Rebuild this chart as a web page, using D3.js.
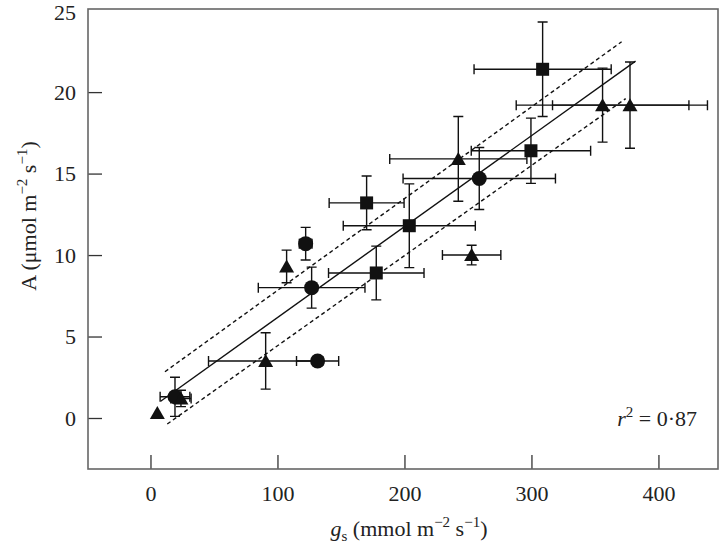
<!DOCTYPE html>
<html>
<head>
<meta charset="utf-8">
<script src="https://cdn.jsdelivr.net/npm/d3@7"></script>
<style>
  html, body { margin: 0; padding: 0; background: #fff; }
  svg { display: block; }
  svg text { font-family: "Liberation Serif", "Times New Roman", Times, serif; }
</style>
</head>
<body>
<div id="chart"></div>
<script>
// squares
const sqGs = [308.8, 299.6, 170.2, 203.8, 177.8];
const sqA = [21.4, 16.4, 13.2, 11.8, 8.9];
const sqGsErr = [54, 47, 29.5, 52, 37.6];
const sqAErr = [2.9, 2.0, 1.65, 2.57, 1.65];

// circles
const ciGs = [258.9, 122.2, 126.9, 131.6, 19.3];
const ciA = [14.7, 10.7, 8.0, 3.5, 1.3];
const ciGsErr = [60, 5, 42, 16.6, 11.7];
const ciAErr = [1.9, 1.0, 1.26, 0, 1.2];

// triangles
const trGs = [356.0, 377.6, 242.4, 107.2, 252.9, 90.7, 24, 5.4];
const trA = [19.2, 19.2, 15.9, 9.3, 10.0, 3.5, 1.2, 0.3];
const trGsErr = [68, 61, 54, 0, 23, 45, 8, 0];
const trAErr = [2.27, 2.65, 2.6, 1.0, 0.6, 1.73, 0.5, 0];

// regression line and confidence band
const fitGs = [8, 382];
const fitA = [1.03, 21.9];
const upperGs = [11.4, 371];
const upperA = [2.84, 23.09];
const lowerGs = [13.2, 374.2];
const lowerA = [-0.37, 19.6];

const xTicks = [0, 100, 200, 300, 400];
const yTicks = [0, 5, 10, 15, 20, 25];
const rSquared = '0·87';

const width = 720, height = 549;
const frame = { left: 88, right: 718, top: 9, bottom: 469 };
const serif = '"Liberation Serif", "Times New Roman", Times, serif';
const fs = 22, fsSmall = 15;

const svg = d3.select('#chart').append('svg')
  .attr('width', width)
  .attr('height', height);

const x = d3.scaleLinear().domain([-49.2, 446.9]).range([frame.left, frame.right]);
const y = d3.scaleLinear().domain([-3.13, 25.1]).range([frame.bottom, frame.top]);

const ink = '#111';

// axes, ticks pointing inward
const xAxis = svg.append('g')
  .attr('transform', `translate(0,${frame.bottom})`)
  .call(d3.axisBottom(x).tickValues(xTicks).tickSize(-14).tickPadding(16).tickFormat(d3.format('d')));
const yAxis = svg.append('g')
  .attr('transform', `translate(${frame.left},0)`)
  .call(d3.axisLeft(y).tickValues(yTicks).tickSize(-14).tickPadding(12).tickFormat(d3.format('d')));

[xAxis, yAxis].forEach(g => {
  g.select('.domain').remove();
  g.selectAll('.tick line').attr('stroke', '#333').attr('stroke-width', 1.3);
  g.selectAll('.tick text')
    .attr('font-family', serif)
    .attr('font-size', fs)
    .attr('fill', '#222');
});
const top25 = yAxis.selectAll('.tick').filter(d => d === 25);
top25.select('line').remove();
top25.select('text').attr('dy', '0.4em');

svg.append('rect')
  .attr('x', frame.left).attr('y', frame.top)
  .attr('width', frame.right - frame.left)
  .attr('height', frame.bottom - frame.top)
  .attr('fill', 'none')
  .attr('stroke', '#666')
  .attr('stroke-width', 1.6);

// fit lines
const line = d3.line().x(d => x(d[0])).y(d => y(d[1]));
const plotLine = (xs, ys, dash) => svg.append('path')
  .datum(xs.map((v, i) => [v, ys[i]]))
  .attr('d', line)
  .attr('fill', 'none')
  .attr('stroke', ink)
  .attr('stroke-width', 1.4)
  .attr('stroke-dasharray', dash);
plotLine(fitGs, fitA, null);
plotLine(upperGs, upperA, '4,3');
plotLine(lowerGs, lowerA, '4,3');

// error bars
const cap = 5;
function errorBars(gs, a, gsErr, aErr) {
  const g = svg.append('g').attr('stroke', ink).attr('stroke-width', 1.4).attr('fill', 'none');
  gs.forEach((v, i) => {
    const cx = x(v), cy = y(a[i]);
    if (gsErr[i] > 0) {
      const x0 = x(v - gsErr[i]), x1 = x(v + gsErr[i]);
      g.append('path').attr('d',
        `M${x0},${cy}H${x1}M${x0},${cy - cap}V${cy + cap}M${x1},${cy - cap}V${cy + cap}`);
    }
    if (aErr[i] > 0) {
      const y0 = y(a[i] - aErr[i]), y1 = y(a[i] + aErr[i]);
      g.append('path').attr('d',
        `M${cx},${y0}V${y1}M${cx - cap},${y0}H${cx + cap}M${cx - cap},${y1}H${cx + cap}`);
    }
  });
}
errorBars(sqGs, sqA, sqGsErr, sqAErr);
errorBars(ciGs, ciA, ciGsErr, ciAErr);
errorBars(trGs, trA, trGsErr, trAErr);

// markers
svg.append('g').selectAll('rect')
  .data(sqGs.map((v, i) => [v, sqA[i]]))
  .join('rect')
  .attr('x', d => x(d[0]) - 6.5)
  .attr('y', d => y(d[1]) - 6.5)
  .attr('width', 13).attr('height', 13)
  .attr('fill', ink);

svg.append('g').selectAll('circle')
  .data(ciGs.map((v, i) => [v, ciA[i]]))
  .join('circle')
  .attr('cx', d => x(d[0]))
  .attr('cy', d => y(d[1]))
  .attr('r', 7.5)
  .attr('fill', ink);

svg.append('g').selectAll('path')
  .data(trGs.map((v, i) => [v, trA[i]]))
  .join('path')
  .attr('d', d => {
    const cx = x(d[0]), cy = y(d[1]);
    return `M${cx},${cy - 7}L${cx + 7.5},${cy + 6}L${cx - 7.5},${cy + 6}Z`;
  })
  .attr('fill', ink);

// axis titles
const xTitle = svg.append('text')
  .attr('x', 409).attr('y', 536)
  .attr('text-anchor', 'middle')
  .attr('font-family', serif)
  .attr('font-size', fs)
  .attr('fill', '#222');
xTitle.append('tspan').attr('font-style', 'italic').text('g');
xTitle.append('tspan').attr('font-size', fsSmall).attr('dy', 5).text('s');
xTitle.append('tspan').attr('dy', -5).text(' (mmol m');
xTitle.append('tspan').attr('font-size', fsSmall).attr('dy', -9).text('−2');
xTitle.append('tspan').attr('dy', 9).text(' s');
xTitle.append('tspan').attr('font-size', fsSmall).attr('dy', -9).text('−1');
xTitle.append('tspan').attr('dy', 9).text(')');

const yTitle = svg.append('text')
  .attr('transform', 'translate(36,216) rotate(-90)')
  .attr('text-anchor', 'middle')
  .attr('font-family', serif)
  .attr('font-size', fs)
  .attr('fill', '#222');
yTitle.append('tspan').text('A (μmol m');
yTitle.append('tspan').attr('font-size', fsSmall).attr('dy', -9).text('−2');
yTitle.append('tspan').attr('dy', 9).text(' s');
yTitle.append('tspan').attr('font-size', fsSmall).attr('dy', -9).text('−1');
yTitle.append('tspan').attr('dy', 9).text(')');

// r squared
const rText = svg.append('text')
  .attr('x', 697).attr('y', 426)
  .attr('text-anchor', 'end')
  .attr('font-family', serif)
  .attr('font-size', fs)
  .attr('fill', '#222');
rText.append('tspan').attr('font-style', 'italic').text('r');
rText.append('tspan').attr('font-size', fsSmall).attr('dy', -9).text('2');
rText.append('tspan').attr('dy', 9).text(' = ' + rSquared);
</script>
</body>
</html>
